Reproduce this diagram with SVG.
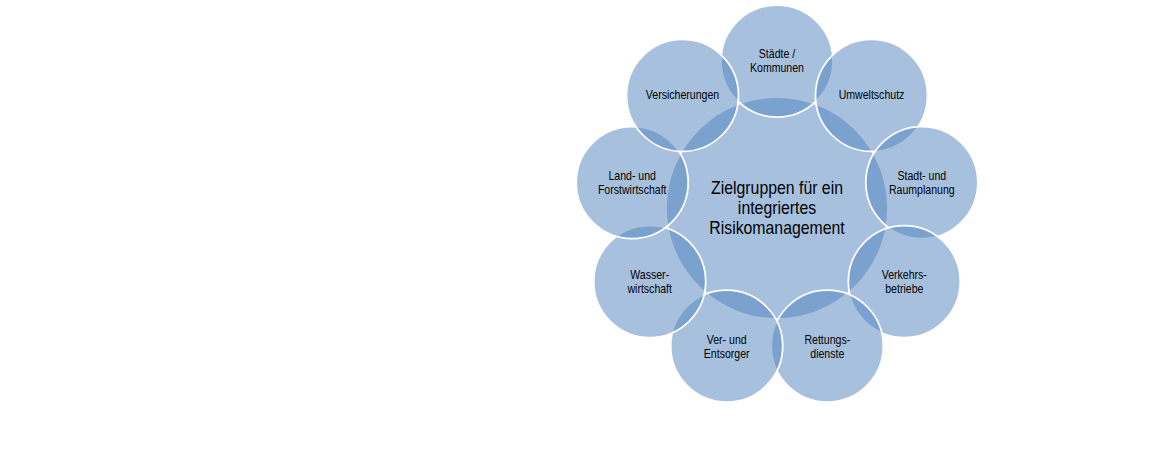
<svg xmlns="http://www.w3.org/2000/svg" width="1170" height="470" viewBox="0 0 1170 470">
<style>
.c{fill:#4f81bd;fill-opacity:0.5;stroke:#ffffff;stroke-width:1.75}
.t{font-family:"Liberation Sans",Arial,sans-serif;font-size:12px;fill:#000;text-anchor:middle}
.m{font-family:"Liberation Sans",Arial,sans-serif;font-size:18px;fill:#000;text-anchor:middle}
</style>
<rect width="1170" height="470" fill="#ffffff"/>
<g id="connectors"></g>
<g id="center">
<circle class="c" cx="777" cy="208" r="111"/>
<text class="m" transform="matrix(0.88 0 0 1 777 0)"><tspan x="0" y="194">Zielgruppen für ein</tspan><tspan x="0" y="214">integriertes</tspan><tspan x="0" y="234">Risikomanagement</tspan></text>
</g>
<g id="staedte">
<circle class="c" cx="777" cy="61" r="56"/>
<text class="t" transform="matrix(0.88 0 0 1 777 0)"><tspan x="0" y="58">Städte /</tspan><tspan x="0" y="72">Kommunen</tspan></text>
</g>
<g id="umweltschutz">
<circle class="c" cx="871.5" cy="95.4" r="56"/>
<text class="t" transform="matrix(0.88 0 0 1 871.5 0)"><tspan x="0" y="99.5">Umweltschutz</tspan></text>
</g>
<g id="stadtplanung">
<circle class="c" cx="921.8" cy="182.5" r="56"/>
<text class="t" transform="matrix(0.88 0 0 1 921.8 0)"><tspan x="0" y="180">Stadt- und</tspan><tspan x="0" y="194">Raumplanung</tspan></text>
</g>
<g id="verkehrsbetriebe">
<circle class="c" cx="904.3" cy="281.5" r="56"/>
<text class="t" transform="matrix(0.88 0 0 1 904.3 0)"><tspan x="0" y="279.5">Verkehrs-</tspan><tspan x="0" y="293.5">betriebe</tspan></text>
</g>
<g id="rettungsdienste">
<circle class="c" cx="827.3" cy="346.1" r="56"/>
<text class="t" transform="matrix(0.88 0 0 1 827.3 0)"><tspan x="0" y="344">Rettungs-</tspan><tspan x="0" y="358">dienste</tspan></text>
</g>
<g id="entsorger">
<circle class="c" cx="726.7" cy="346.1" r="56"/>
<text class="t" transform="matrix(0.88 0 0 1 726.7 0)"><tspan x="0" y="344">Ver- und</tspan><tspan x="0" y="358">Entsorger</tspan></text>
</g>
<g id="wasserwirtschaft">
<circle class="c" cx="649.7" cy="281.5" r="56"/>
<text class="t" transform="matrix(0.88 0 0 1 649.7 0)"><tspan x="0" y="279.5">Wasser-</tspan><tspan x="0" y="293.5">wirtschaft</tspan></text>
</g>
<g id="forstwirtschaft">
<circle class="c" cx="632.2" cy="182.5" r="56"/>
<text class="t" transform="matrix(0.88 0 0 1 632.2 0)"><tspan x="0" y="180">Land- und</tspan><tspan x="0" y="194">Forstwirtschaft</tspan></text>
</g>
<g id="versicherungen">
<circle class="c" cx="682.5" cy="95.4" r="56"/>
<text class="t" transform="matrix(0.88 0 0 1 682.5 0)"><tspan x="0" y="99.5">Versicherungen</tspan></text>
</g>
</svg>
